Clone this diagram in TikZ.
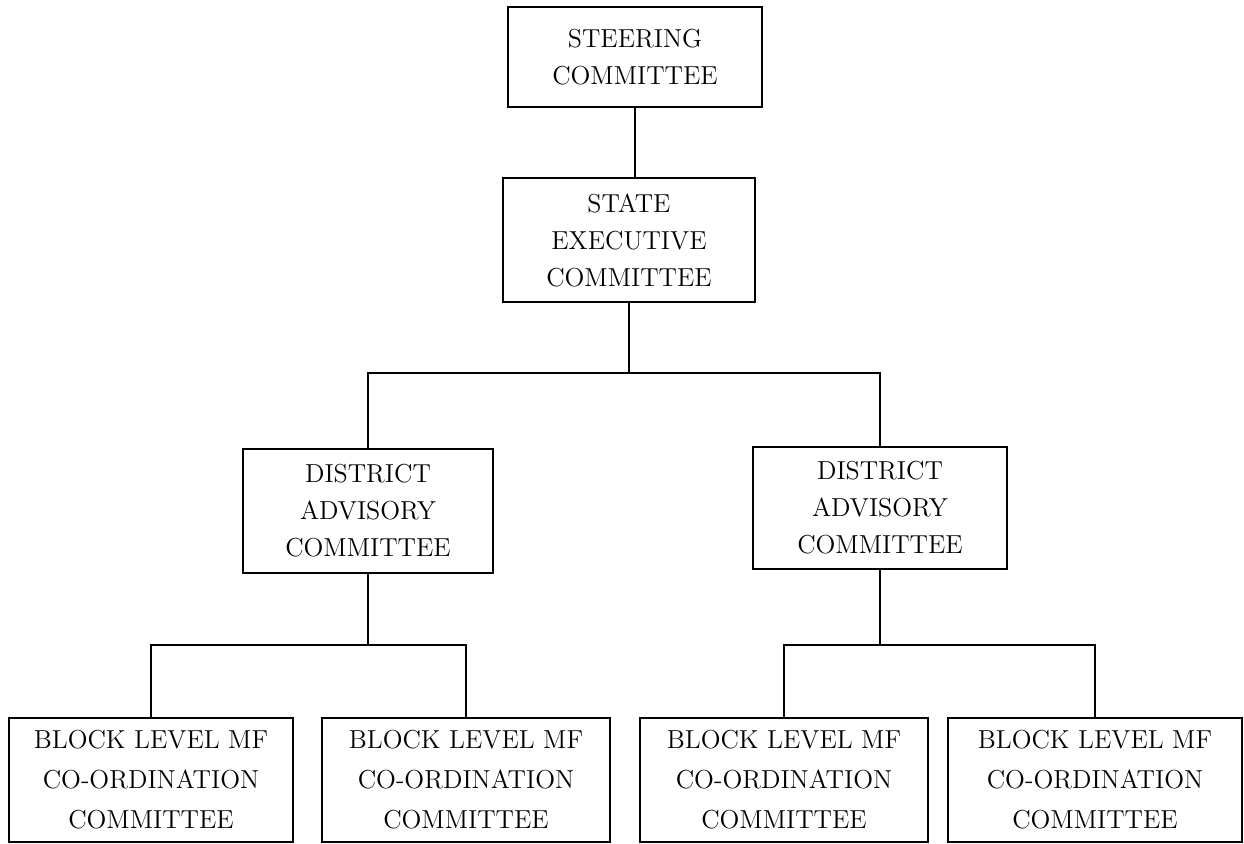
\documentclass[tikz,border=0pt]{standalone}
\usepackage{tikz}
\begin{document}
\begin{tikzpicture}[x=0.5pt, y=-0.5pt,
		committee/.style={draw, line width=1pt, inner sep=0pt, align=center, font=\fontsize{13}{18.5}\selectfont},
		blockbox/.style={committee, minimum width=144pt, minimum height=62pt, font=\fontsize{13}{20}\selectfont},
		link/.style={line width=0.9pt}]
		\useasboundingbox (0,0) rectangle (1244,844);
		% committees, top to bottom
		\node[committee, minimum width=127pt, minimum height=50pt] (steer) at (635,57) {STEERING\\COMMITTEE};
		\node[committee, minimum width=126pt, minimum height=62pt] (state) at (629,240) {STATE\\EXECUTIVE\\COMMITTEE};
		\node[committee, minimum width=125pt, minimum height=62pt] (distL) at (368,511) {DISTRICT\\ADVISORY\\COMMITTEE};
		\node[committee, minimum width=127pt, minimum height=61pt] (distR) at (880,508) {DISTRICT\\ADVISORY\\COMMITTEE};
		\node[blockbox, minimum width=142pt] (blk1) at (151,780) {BLOCK LEVEL MF\\CO-ORDINATION\\COMMITTEE};
		\node[blockbox] (blk2) at (466,780) {BLOCK LEVEL MF\\CO-ORDINATION\\COMMITTEE};
		\node[blockbox] (blk3) at (784,780) {BLOCK LEVEL MF\\CO-ORDINATION\\COMMITTEE};
		\node[blockbox, minimum width=147pt] (blk4) at (1095,780) {BLOCK LEVEL MF\\CO-ORDINATION\\COMMITTEE};
		% bus points
		\coordinate (busS) at (629,373);
		\coordinate (busL) at (368,645);
		\coordinate (busR) at (880,645);
		% connectors
		\draw[link] (steer.south) -- (steer.south |- state.north);
		\draw[link] (state) -- (busS);
		\draw[link] (distL.north) |- (busS) -| (distR.north);
		\draw[link] (distL) -- (busL);
		\draw[link] (blk1.north) |- (busL) -| (blk2.north);
		\draw[link] (distR) -- (busR);
		\draw[link] (blk3.north) |- (busR) -| (blk4.north);
	\end{tikzpicture}
\end{document}
